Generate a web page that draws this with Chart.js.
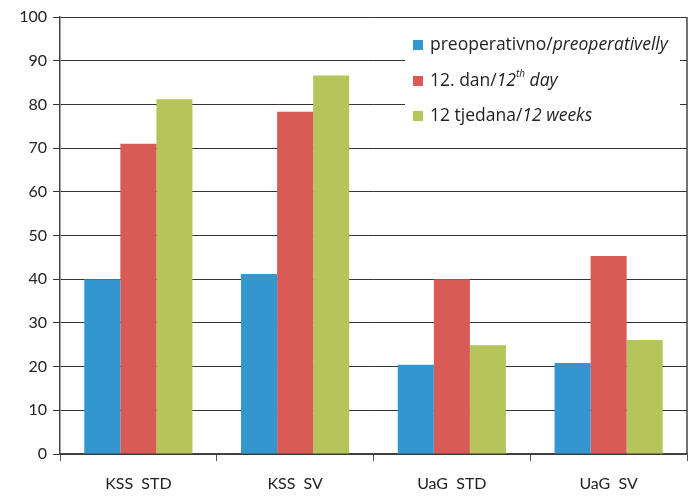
<!DOCTYPE html>
<html>
<head>
<meta charset="utf-8">
<script src="https://cdn.jsdelivr.net/npm/chart.js@4/dist/chart.umd.min.js"></script>
<style>
  html, body { margin: 0; padding: 0; background: #fff; }
  #wrap { width: 694px; height: 497px; }
</style>
</head>
<body>
<div id="wrap"><canvas id="chart" width="694" height="497"></canvas></div>
<script>
// Data
const categories = ['KSS  STD', 'KSS  SV', 'UaG  STD', 'UaG  SV'];
const preoperativno = [40.0, 41.2, 20.4, 20.8];
const dan12 = [71.0, 78.3, 40.0, 45.3];
const tjedana12 = [81.2, 86.6, 24.9, 26.1];
const yTicks = [0, 10, 20, 30, 40, 50, 60, 70, 80, 90, 100];

// Legend text pieces: [text, style]  (n = normal, i = italic, s = superscript italic)
const legendParts = [
  [['preoperativno/', 'n'], ['preoperativelly', 'i']],
  [['12. dan/', 'n'], ['12', 'i'], ['th', 's'], [' day', 'i']],
  [['12 tjedana/', 'n'], ['12 weeks', 'i']]
];

const colors = ['#3496CE', '#D95B55', '#B6C55B'];
const fontFamily = 'Lato, "Open Sans", sans-serif';
const legendFont = '"Open Sans", Lato, sans-serif';

/**
 * Draws the legend box with mixed italic / superscript text
 */
const richLegend = {
  id: 'richLegend',
  afterDraw(chart) {
    const ctx = chart.ctx;
    const area = chart.chartArea;
    ctx.save();

    // right border of the plot area
    ctx.strokeStyle = '#444';
    ctx.lineWidth = 1.5;
    ctx.beginPath();
    ctx.moveTo(area.right, area.top);
    ctx.lineTo(area.right, area.bottom);
    ctx.stroke();

    // white box hiding the gridlines
    ctx.fillStyle = '#fff';
    ctx.fillRect(405, 24, 275, 116);

    const rowsY = [45, 81, 116];
    chart.data.datasets.forEach((ds, i) => {
      const y = rowsY[i];
      ctx.fillStyle = ds.backgroundColor;
      ctx.fillRect(413, y - 5, 10, 10);

      let x = 430;
      ctx.fillStyle = '#222';
      ctx.textBaseline = 'middle';
      for (const [txt, style] of legendParts[i]) {
        if (style === 's') {
          ctx.font = 'italic 10px ' + legendFont;
          ctx.fillText(txt, x, y - 7);
        } else {
          ctx.font = (style === 'i' ? 'italic ' : '') + '17.5px ' + legendFont;
          ctx.fillText(txt, x, y);
        }
        x += ctx.measureText(txt).width;
      }
    });
    ctx.restore();
  }
};

const ctx = document.getElementById('chart').getContext('2d');

new Chart(ctx, {
  type: 'bar',
  data: {
    labels: categories,
    datasets: [
      { label: 'preoperativno/preoperativelly', data: preoperativno, backgroundColor: colors[0] },
      { label: '12. dan/12th day', data: dan12, backgroundColor: colors[1] },
      { label: '12 tjedana/12 weeks', data: tjedana12, backgroundColor: colors[2] }
    ]
  },
  options: {
    responsive: false,
    animation: false,
    layout: {
      padding: { top: 17, right: 7, left: 0, bottom: 0 }
    },
    datasets: {
      bar: {
        categoryPercentage: 0.69,
        barPercentage: 1.0
      }
    },
    plugins: {
      legend: { display: false },
      tooltip: { enabled: false }
    },
    scales: {
      x: {
        grid: {
          offset: true,
          drawOnChartArea: false,
          drawTicks: true,
          tickLength: 7,
          color: '#555',
          lineWidth: 1
        },
        border: { color: '#444', width: 1.5 },
        ticks: {
          color: '#222',
          padding: 13,
          font: { family: fontFamily, size: 16 }
        },
        afterFit(scale) {
          scale.height = 43;
        }
      },
      y: {
        min: 0,
        max: 100,
        afterBuildTicks(scale) {
          scale.ticks = yTicks.map(v => ({ value: v }));
        },
        grid: {
          color: '#333',
          lineWidth: 1,
          drawTicks: true,
          tickLength: 7
        },
        border: { color: '#444', width: 1.5 },
        ticks: {
          color: '#222',
          padding: 6,
          font: { family: fontFamily, size: 16 }
        },
        afterFit(scale) {
          scale.width = 60;
        }
      }
    }
  },
  plugins: [richLegend]
});
</script>
</body>
</html>
